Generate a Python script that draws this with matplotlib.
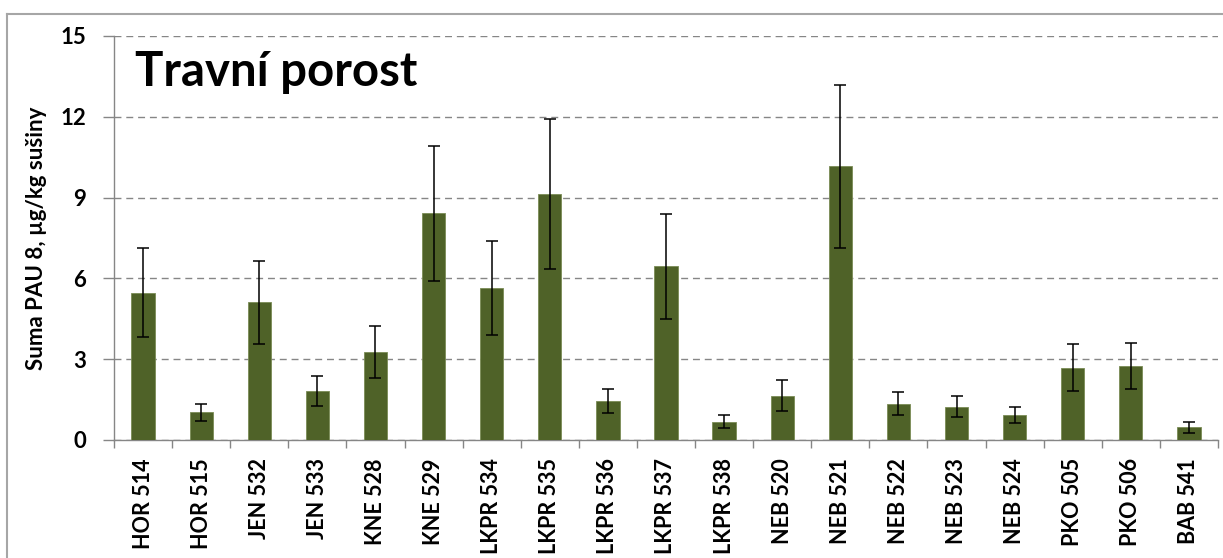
import matplotlib
matplotlib.use("Agg")
import matplotlib.pyplot as plt
import numpy as np
from matplotlib.lines import Line2D

# Sample sites and measured sums of 8 PAHs (mean and standard deviation)
sites = ["HOR 514", "HOR 515", "JEN 532", "JEN 533", "KNE 528", "KNE 529",
         "LKPR 534", "LKPR 535", "LKPR 536", "LKPR 537", "LKPR 538",
         "NEB 520", "NEB 521", "NEB 522", "NEB 523", "NEB 524",
         "PKO 505", "PKO 506", "BAB 541"]
means = [5.47, 1.03, 5.11, 1.81, 3.27, 8.42, 5.63, 9.13, 1.45, 6.45, 0.68,
         1.65, 10.16, 1.35, 1.24, 0.93, 2.69, 2.74, 0.47]
errors = [1.65, 0.31, 1.53, 0.56, 0.95, 2.51, 1.75, 2.77, 0.46, 1.95, 0.24,
          0.57, 3.02, 0.44, 0.40, 0.30, 0.86, 0.86, 0.20]
y_ticks = [0, 3, 6, 9, 12, 15]

title = "Travní porost"
y_label = "Suma PAU 8, µg/kg sušiny"

plt.rcParams["font.family"] = ["Lato", "DejaVu Sans"]

W, H = 1223, 558
fig = plt.figure(figsize=(W / 100, H / 100), dpi=100)
ax = fig.add_axes([114 / W, (H - 440) / H, (1218 - 114) / W, (440 - 36) / H])

x = np.arange(len(sites))
ax.bar(x, means, width=0.4, color="#4f6228", edgecolor="#7a8c55",
       linewidth=0.6, zorder=3)
ax.errorbar(x, means, yerr=errors, fmt="none", ecolor="black",
            elinewidth=1.1, capsize=4, capthick=1.1, zorder=4)

ax.set_xlim(-0.5, len(sites) - 0.5)
ax.set_ylim(0, 15)
ax.set_yticks(y_ticks)
ax.set_yticklabels([str(t) for t in y_ticks], fontsize=16, fontweight="bold")

ax.set_xticks(x)
ax.set_xticklabels(sites, rotation=90, fontsize=15.5, fontweight="bold")
ax.tick_params(axis="x", which="major", length=0, pad=13)
ax.set_xticks(np.arange(-0.5, len(sites), 1.0), minor=True)
ax.tick_params(axis="x", which="minor", length=6, color="#868686", width=1)
ax.tick_params(axis="y", length=8, color="#868686", width=1, pad=12)

ax.yaxis.grid(True, linestyle=(0, (5, 3.5)), color="#868686", linewidth=1,
              zorder=0)
ax.set_axisbelow(True)

for side in ("top", "right"):
    ax.spines[side].set_visible(False)
for side in ("left", "bottom"):
    ax.spines[side].set_color("#868686")
    ax.spines[side].set_linewidth(1)

ax.set_ylabel(y_label, fontsize=16, fontweight="bold", labelpad=10)

ax.text(135 / W, (H - 72) / H, title, transform=fig.transFigure,
        fontsize=34, fontweight="bold", va="center", ha="left")

# Outer chart-area frame (top and left edges)
fig.add_artist(Line2D([7 / W, 1.0], [(H - 14) / H, (H - 14) / H],
                      transform=fig.transFigure, color="#a6a6a6", linewidth=1.5))
fig.add_artist(Line2D([7 / W, 7 / W], [0, (H - 14) / H],
                      transform=fig.transFigure, color="#a6a6a6", linewidth=1.5))

fig.savefig("out.png", dpi=100)
